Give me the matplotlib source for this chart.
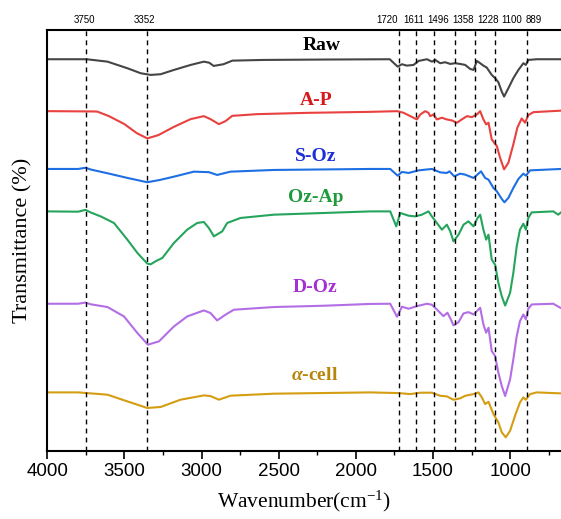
import matplotlib.pyplot as plt
import numpy as np

# フォント設定
plt.rcParams['font.family'] = 'Liberation Sans'
plt.rcParams['mathtext.fontset'] = 'custom'
plt.rcParams['mathtext.rm'] = 'Liberation Serif'
plt.rcParams['mathtext.it'] = 'Liberation Serif:italic:bold'

# 各サンプルのスペクトル (波数, 吸収の深さ)
raw_wn = [4000, 3745, 3610, 3481, 3395, 3330, 3265, 3179, 3071, 2985, 2950, 2922, 2858, 2800, 2600, 2200,
          1780, 1729, 1701, 1669, 1626, 1593, 1539, 1507, 1485, 1453, 1421, 1388, 1356, 1324, 1291, 1259,
          1237, 1215, 1194, 1173, 1151, 1119, 1097, 1076, 1054, 1039, 1011, 979, 946, 914, 898, 882, 827, 670]
raw_d = [0, 0, 2.4, 9, 14, 15.7, 15, 10.7, 5.7, 2.4, 3.5, 6.7, 5, 1.4, 0.7, 0.3,
         0, 7.4, 5, 6.4, 5.7, 1.7, 0, 2.4, 0.7, 4, 3, 4.7, 4, 4.7, 5.7, 9.7,
         10.7, 1.7, 4, 6.4, 8.4, 15.7, 19, 23, 32.4, 37.4, 29, 19, 10.7, 4, 5.7, 0.7, 0, 0]

ap_wn = [4000, 3700, 3675, 3600, 3500, 3420, 3352, 3280, 3179, 3071, 2985, 2942, 2888, 2845, 2801, 2640,
         2316, 1906, 1733, 1691, 1647, 1604, 1582, 1550, 1529, 1518, 1496, 1475, 1442, 1410, 1377, 1345,
         1313, 1280, 1248, 1215, 1194, 1173, 1155, 1140, 1119, 1086, 1065, 1039, 1011, 979, 953, 925,
         903, 882, 849, 670]
ap_d = [0, 0.3, 0.5, 5, 13, 22, 27.3, 24, 15.7, 8, 5, 8, 13, 10, 4.7, 3,
        1.7, 0.7, 0, 1.6, 5, 8.3, 3.3, 0, 1.7, 5, 3.3, 8.3, 6.6, 8.3, 9.3, 11.6,
        8.3, 5, 6, 3.3, 0, 8.3, 13.3, 11.6, 28.3, 35, 46.6, 58.3, 51.6, 33.3, 16.6, 7.3,
        11.6, 4, 1, -0.5]

soz_wn = [4000, 3800, 3752, 3720, 3610, 3480, 3352, 3270, 3179, 3050, 2953, 2899, 2860, 2812, 2532, 1906,
          1777, 1729, 1701, 1658, 1593, 1507, 1453, 1410, 1393, 1362, 1324, 1291, 1237, 1205, 1188, 1162,
          1140, 1108, 1086, 1054, 1037, 1011, 979, 946, 914, 898, 870, 670]
soz_d = [0, 0, -1.2, 0.5, 4.3, 9, 13.3, 11, 7.7, 2.7, 3.2, 6, 4.5, 2.7, 1, 0,
         0, 6.7, 3, 4, 1.4, 0, 3.4, 4, 2.4, 7.4, 4.7, 5.7, 9, 4.7, 2.4, 9,
         10.7, 19, 22.4, 30, 33.4, 29, 19, 10, 4.7, 6.7, 1.4, 0]

ozap_wn = [4000, 3800, 3752, 3720, 3654, 3568, 3481, 3416, 3352, 3330, 3298, 3254, 3179, 3093, 3028, 2985,
           2953, 2920, 2866, 2834, 2748, 2532, 2208, 1906, 1777, 1738, 1712, 1658, 1615, 1572, 1529, 1507,
           1475, 1442, 1410, 1388, 1367, 1334, 1302, 1270, 1237, 1211, 1194, 1173, 1155, 1140, 1119, 1097,
           1076, 1054, 1032, 1000, 979, 957, 936, 914, 898, 882, 860, 720, 688, 670]
ozap_d = [0, 0.3, -1.5, 1, 5, 11.6, 28.3, 41.6, 52.3, 53, 50, 46.6, 31.6, 18.3, 11.6, 10.6,
          16.6, 25, 20, 11.6, 6.6, 3.3, 1.6, 0, 0, 15, 1.6, 4.3, 5, 3.3, 0, 5,
          11.6, 18.3, 13.3, 20, 30, 23.3, 13.3, 10, 15, 6.6, 3.3, 18.3, 28.3, 23.3, 48.3, 53.3,
          71.6, 85, 94.3, 81.6, 61.6, 35, 18.3, 12.3, 18.3, 6.6, 1, 0, 3.3, 1]

doz_wn = [4000, 3800, 3752, 3720, 3610, 3503, 3416, 3348, 3276, 3179, 3093, 2985, 2942, 2899, 2845, 2791,
          2532, 2208, 1906, 1777, 1733, 1701, 1658, 1604, 1539, 1507, 1475, 1432, 1406, 1384, 1367, 1334,
          1302, 1270, 1237, 1215, 1194, 1173, 1155, 1140, 1119, 1097, 1076, 1054, 1032, 1000, 979, 957,
          936, 914, 898, 882, 860, 720, 675]
doz_d = [0, 0, -1.2, 0.5, 3.3, 12.7, 29.3, 41, 37.7, 22.7, 12.7, 6.7, 9.3, 16.7, 11, 6,
         3.3, 2, 0.2, 0, 13, 3, 5, 2.4, 0, 1, 5.7, 12.4, 9, 15.7, 21.7, 18.4,
         9.7, 8.4, 10.7, 7.4, 4, 20.7, 29, 24, 47.4, 52.4, 69, 82.4, 92.4, 75.7, 55.7, 32.4,
         17.4, 10.7, 15.7, 5, 0.7, 0, 4]

acell_wn = [4000, 3800, 3610, 3481, 3352, 3265, 3136, 2985, 2942, 2888, 2812, 2532, 1906, 1723, 1647, 1582,
            1507, 1453, 1410, 1367, 1324, 1291, 1237, 1205, 1183, 1162, 1140, 1108, 1076, 1054, 1028, 1000,
            968, 936, 914, 898, 870, 827, 670]
acell_d = [0, 0, 2.3, 9, 15.6, 14.6, 7.3, 3, 3.7, 7.3, 3.3, 1.3, 0, 0.7, 1.7, 0.3,
           0.3, 3.4, 4, 7.4, 6, 3.4, 1.7, 0, 5, 11.7, 9.4, 21.7, 30, 40, 45, 38.4,
           23.4, 10, 5, 7.4, 1.7, 0, 1]

names = ["Raw", "A-P", "S-Oz", "Oz-Ap", "D-Oz", r"$\alpha$-cell"]
spectra = [(raw_wn, raw_d), (ap_wn, ap_d), (soz_wn, soz_d),
           (ozap_wn, ozap_d), (doz_wn, doz_d), (acell_wn, acell_d)]
offsets = [392.1, 340.1, 282.2, 239.7, 147.2, 58.4]
line_colors = ["#454545", "#e8413f", "#1e6fe3", "#25a55c", "#b36ee6", "#d49d12"]
text_colors = ["#000000", "#d7191c", "#1d2ed6", "#1f9a3c", "#a530d6", "#b8860b"]

# 特徴的なピーク位置
peaks = [3750, 3352, 1720, 1611, 1496, 1358, 1228, 1100, 889]
peak_shift = [10, 19, 80, 11, -31, -54, -84, -110, -45]  # ラベルの重なり回避

fig = plt.figure(figsize=(5.61, 5.19), dpi=100)
ax = fig.add_axes([0.0843, 0.1316, 0.9157, 0.8112])

for (wn, d), off, c in zip(spectra, offsets, line_colors):
    ax.plot(wn, off - np.array(d), color=c, lw=1.5)

# サンプル名
label_x = [2223, 2258, 2258, 2258, 2265, 2265]
label_gap = [14, 11, 12.5, 14, 16, 17]
for name, x, off, g, c in zip(names, label_x, offsets, label_gap, text_colors):
    ax.text(x, off + g, name, color=c, ha='center', va='center',
            family='Liberation Serif', fontweight='bold', fontsize=14)

# ピーク位置の破線とラベル
for p, s in zip(peaks, peak_shift):
    ax.axvline(p, color='black', lw=1.0, ls=(0, (3.5, 3)))
    ax.text(p + s, 1.022, str(p), transform=ax.get_xaxis_transform(),
            ha='center', va='center', fontsize=7)

ax.set_xlim(4000, 670)
ax.set_ylim(0, 421.7)
ax.set_xticks([4000, 3500, 3000, 2500, 2000, 1500, 1000])
ax.set_xticks(np.arange(750, 4000, 500), minor=True)
ax.tick_params(axis='x', which='major', direction='out', length=6, width=1.2, labelsize=13.5, pad=3)
ax.tick_params(axis='x', which='minor', direction='out', length=3, width=1.0)
ax.set_yticks([])
for sp in ['left', 'top', 'bottom']:
    ax.spines[sp].set_linewidth(1.5)
ax.spines['right'].set_visible(False)

fig.text(0.542, 0.022, "Wavenumber(cm$^{-1}$)", family='Liberation Serif', fontsize=15.5,
         ha='center', va='baseline')
fig.text(0.040, 0.537, "Transmittance (%)", family='Liberation Serif', fontsize=16,
         ha='center', va='center', rotation=90)

plt.savefig("out.png", dpi=100)
